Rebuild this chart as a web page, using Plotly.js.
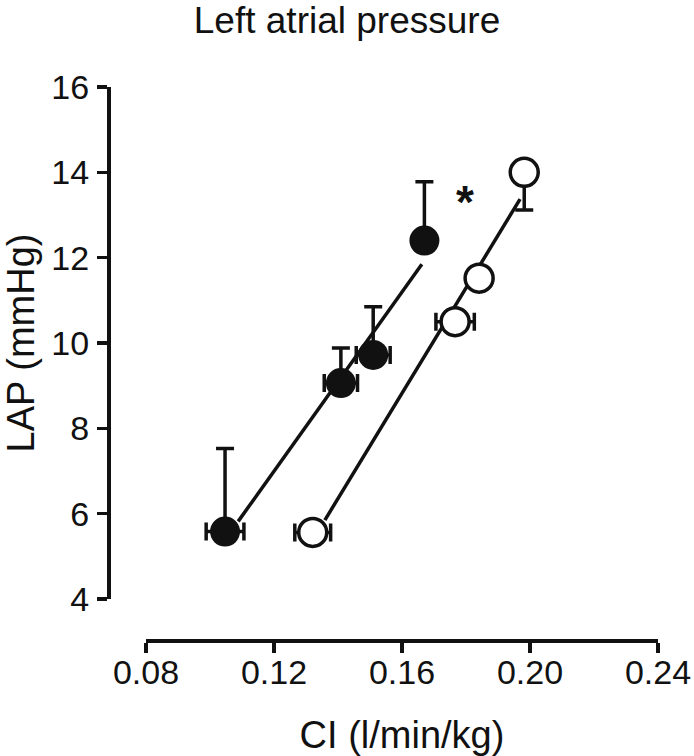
<!DOCTYPE html>
<html>
<head>
<meta charset="utf-8">
<script src="https://cdn.plot.ly/plotly-3.0.1.min.js"></script>
<style>html,body{margin:0;padding:0;background:#fff;}</style>
</head>
<body>
<div id="chart" style="width:694px;height:756px;"></div>
<script>
// Filled circles
const ciFilled = [0.1047, 0.1409, 0.1510, 0.1670];
const lapFilled = [5.58, 9.06, 9.72, 12.40];
const lapFilledErrUp = [1.95, 0.82, 1.13, 1.38];
const ciFilledErr = [0.0059, 0.0052, 0.0053, 0.0030];
// Open circles
const ciOpen = [0.1321, 0.1766, 0.1841, 0.1982];
const lapOpen = [5.56, 10.50, 11.52, 14.00];
const lapOpenErrDown = [0.25, 0.25, 0.25, 0.88];
const ciOpenErr = [0.0056, 0.0060, 0.0030, 0.0030];
// x extent over which each regression line is drawn
const fitRangeFilled = [0.1088, 0.1662];
const fitRangeOpen = [0.1359, 0.1969];
// Axis ticks
const xTickVals = [0.08, 0.12, 0.16, 0.20, 0.24];
const xTickText = ['0.08', '0.12', '0.16', '0.20', '0.24'];
const yTickVals = [4, 6, 8, 10, 12, 14, 16];
const yTickText = ['4', '6', '8', '10', '12', '14', '16'];
// Significance mark
const starX = [0.1797];
const starY = [13.47];

function linfit(xs, ys) {
  const n = xs.length;
  const mx = xs.reduce((a, b) => a + b, 0) / n;
  const my = ys.reduce((a, b) => a + b, 0) / n;
  let sxy = 0, sxx = 0;
  for (let i = 0; i < n; i++) { sxy += (xs[i] - mx) * (ys[i] - my); sxx += (xs[i] - mx) ** 2; }
  const b = sxy / sxx;
  return x => my + b * (x - mx);
}
const fF = linfit(ciFilled, lapFilled);
const fO = linfit(ciOpen, lapOpen);

const INK = '#111111';
const FONT = 'Liberation Sans, Arial, Helvetica, sans-serif';

const traces = [
  { x: fitRangeFilled, y: fitRangeFilled.map(fF), mode: 'lines', line: {color: INK, width: 3.5}, hoverinfo: 'skip' },
  { x: fitRangeOpen, y: fitRangeOpen.map(fO), mode: 'lines', line: {color: INK, width: 3.5}, hoverinfo: 'skip' },
  { x: ciOpen, y: lapOpen, mode: 'markers',
    marker: {symbol: 'circle', size: 28, color: '#ffffff', line: {color: INK, width: 3.5}},
    error_y: {type: 'data', symmetric: false, array: [0,0,0,0], arrayminus: lapOpenErrDown, color: INK, thickness: 3.5, width: 9},
    error_x: {type: 'data', array: ciOpenErr, color: INK, thickness: 3.5, width: 9} },
  { x: ciFilled, y: lapFilled, mode: 'markers',
    marker: {symbol: 'circle', size: 30, color: INK, line: {width: 0}},
    error_y: {type: 'data', symmetric: false, array: lapFilledErrUp, arrayminus: [0,0,0,0], color: INK, thickness: 3.5, width: 9},
    error_x: {type: 'data', array: ciFilledErr, color: INK, thickness: 3.5, width: 9} }
];

const axisCommon = {
  showline: true, linewidth: 3.5, linecolor: INK,
  ticks: 'outside', ticklen: 10, tickwidth: 3.5, tickcolor: INK,
  showgrid: false, zeroline: false, automargin: false,
  tickfont: {family: FONT, size: 34, color: INK},
  anchor: 'free', position: 0
};

const layout = {
  width: 694, height: 756,
  margin: {l: 108, r: 36, t: 87, b: 116},
  paper_bgcolor: '#ffffff', plot_bgcolor: '#ffffff',
  showlegend: false,
  font: {family: FONT, color: INK},
  title: {text: 'Left atrial pressure', font: {family: FONT, size: 37, color: INK},
          xref: 'container', x: 0.5, xanchor: 'center', yref: 'container', y: 1 - 20/756, yanchor: 'middle'},
  xaxis: Object.assign({}, axisCommon, {
    range: [0.08, 0.24], domain: [38/550, 1],
    tickmode: 'array', tickvals: xTickVals, ticktext: xTickText,
    ticklabelstandoff: -9,
    title: {text: 'CI (l/min/kg)', font: {family: FONT, size: 38, color: INK}, standoff: 33}
  }),
  yaxis: Object.assign({}, axisCommon, {
    range: [4, 16], domain: [41/553, 1],
    tickmode: 'array', tickvals: yTickVals, ticktext: yTickText,
    ticklabelstandoff: 1,
    title: {text: 'LAP (mmHg)', font: {family: FONT, size: 38, color: INK}, standoff: 6}
  }),
  annotations: [{
    x: starX[0], y: starY[0], xref: 'x', yref: 'y', text: '<b>*</b>', showarrow: false,
    font: {family: FONT, size: 46, color: INK}, xanchor: 'center', yanchor: 'middle', yshift: -7
  }]
};

Plotly.newPlot('chart', traces, layout, {displayModeBar: false, staticPlot: true});
</script>
</body>
</html>
